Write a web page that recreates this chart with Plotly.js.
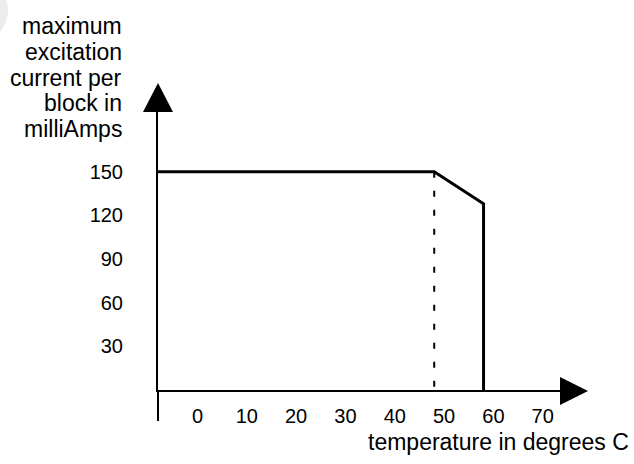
<!DOCTYPE html>
<html>
<head>
<meta charset="utf-8">
<script src="https://cdn.plot.ly/plotly-3.0.1.min.js"></script>
<style>html,body{margin:0;padding:0;background:#fff;}#chart{width:634px;height:464px;}</style>
</head>
<body>
<div id="chart"></div>
<script>
// ---- data ----
var temperatures = [-8, 48, 58, 58];          // degrees C
var maxCurrent   = [150, 150, 128, 0];        // milliAmps
var kneeTemp     = [48, 48];
var kneeCurrent  = [150, 0];
var xTickVals    = [0, 10, 20, 30, 40, 50, 60, 70];
var yTickVals    = [30, 60, 90, 120, 150];
var yTitleLines  = ["maximum", "excitation", "current per", "block in", "milliAmps"];
var xTitle       = "temperature in degrees C";

// ---- layout helpers (pixel -> paper) ----
var W = 634, H = 464;
var mL = 158, mR = 74, mT = 112, mB = 74;
var pw = W - mL - mR, ph = H - mT - mB;
function px(x) { return (x - mL) / pw; }
function py(y) { return (H - mB - y) / ph; }

var FONT = "Liberation Sans, Arial, Helvetica, sans-serif";

var traces = [
  {
    x: temperatures, y: maxCurrent, type: "scatter", mode: "lines",
    line: {color: "#000", width: 3}, cliponaxis: false, hoverinfo: "skip"
  },
  {
    x: kneeTemp, y: kneeCurrent, type: "scatter", mode: "lines",
    line: {color: "#000", width: 2, dash: "6px,13px"}, cliponaxis: false, hoverinfo: "skip"
  }
];

var annotations = yTitleLines.map(function (t, i) {
  return {
    text: t, xref: "paper", yref: "paper",
    x: px(124), y: py(26 + i * 25.8),
    xanchor: "right", yanchor: "middle", showarrow: false,
    font: {family: FONT, size: 23, color: "#000"}
  };
});
annotations.push({
  text: xTitle, xref: "paper", yref: "paper",
  x: px(631), y: py(442), xanchor: "right", yanchor: "middle", showarrow: false,
  font: {family: FONT, size: 23, color: "#000"}
});

var shapes = [
  // faint grey blob in the top-left corner
  {type: "path", xref: "paper", yref: "paper", xsizemode: "pixel", ysizemode: "pixel",
   xanchor: 0, yanchor: 1,
   path: "M -158,112 L -152,112 Q -146,96 -158,80 Z",
   fillcolor: "#ececec", line: {width: 0}},
  // up arrow head on y axis
  {type: "path", xref: "paper", yref: "paper", xsizemode: "pixel", ysizemode: "pixel",
   xanchor: 0, yanchor: 1, path: "M -15,0 L 15,0 L 0,29 Z",
   fillcolor: "#000", line: {width: 0}},
  // right arrow head on x axis
  {type: "path", xref: "paper", yref: "paper", xsizemode: "pixel", ysizemode: "pixel",
   xanchor: 1, yanchor: 0, path: "M 0,13 L 0,-15 L 28,-1 Z",
   fillcolor: "#000", line: {width: 0}},
  // y axis extension below the x axis
  {type: "line", xref: "paper", yref: "paper", xsizemode: "pixel", ysizemode: "pixel",
   xanchor: 0, yanchor: 0, x0: 0, x1: 0, y0: 0, y1: -31,
   line: {color: "#000", width: 2}}
];

var layout = {
  width: W, height: H,
  margin: {l: mL, r: mR, t: mT, b: mB, pad: 0},
  paper_bgcolor: "#fff", plot_bgcolor: "#fff",
  showlegend: false,
  font: {family: FONT, size: 20, color: "#000"},
  xaxis: {
    range: [-8, 73.5], showgrid: false, zeroline: false,
    showline: true, linecolor: "#000", linewidth: 2,
    tickvals: xTickVals, ticks: "", ticklabelstandoff: 7,
    tickfont: {family: FONT, size: 20, color: "#000"}, fixedrange: true
  },
  yaxis: {
    range: [0, 191.1], showgrid: false, zeroline: false,
    showline: true, linecolor: "#000", linewidth: 2,
    tickvals: yTickVals, ticks: "", ticklabelstandoff: 29,
    tickfont: {family: FONT, size: 20, color: "#000"}, fixedrange: true
  },
  annotations: annotations,
  shapes: shapes
};

Plotly.newPlot("chart", traces, layout, {displayModeBar: false, staticPlot: true});
</script>
</body>
</html>
